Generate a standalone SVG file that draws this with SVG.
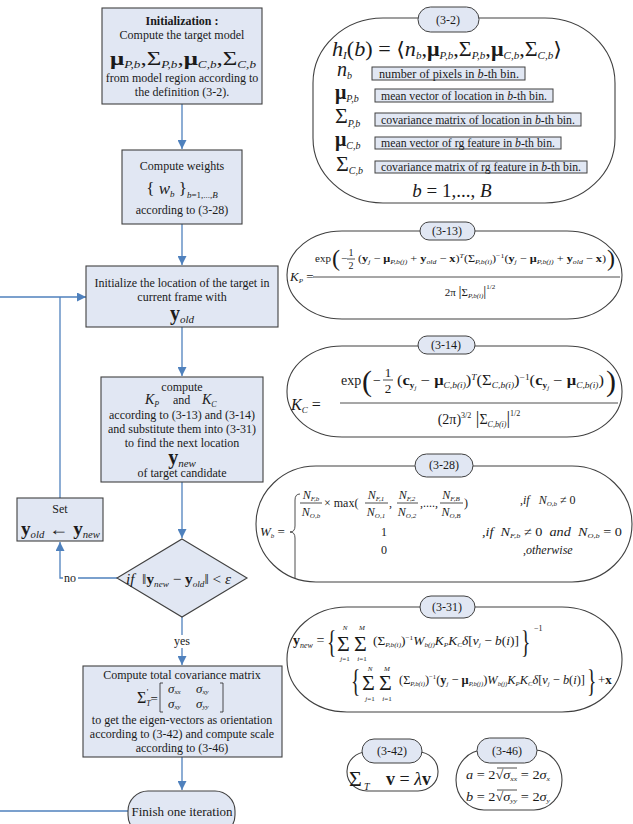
<svg xmlns="http://www.w3.org/2000/svg" width="633" height="824" viewBox="0 0 633 824">
<style>
text{font-family:"Liberation Serif","DejaVu Serif","Times New Roman",serif;fill:#1a1a1a}
.c{text-anchor:middle}
.f11{font-size:11px}
.f12{font-size:12px}
.i{font-style:italic}
.b{font-weight:bold}
.n{font-style:normal}
.box{fill:#e1e7f3;stroke:#404040;stroke-width:1.1}
.lbl{fill:#e1e7f3;stroke:#404040;stroke-width:1}
.eq{fill:#fff;stroke:#404040;stroke-width:1.1}
.conn{fill:none;stroke:#4f81bd;stroke-width:1.3}
.ml{stroke:#222;stroke-width:0.8;fill:none}
</style>
<defs>
<marker id="ah" viewBox="0 0 10 10" refX="10" refY="5" markerWidth="9" markerHeight="9" markerUnits="userSpaceOnUse" orient="auto"><path d="M0,0 L10,5 L0,10 z" fill="#4f81bd"/></marker>
</defs>
<rect width="633" height="824" fill="#fff"/>

<g id="connectors">
<path class="conn" d="M182,104 V149" marker-end="url(#ah)"/>
<path class="conn" d="M182,224 V265" marker-end="url(#ah)"/>
<path class="conn" d="M182,327 V376" marker-end="url(#ah)"/>
<path class="conn" d="M182,482 V538" marker-end="url(#ah)"/>
<path class="conn" d="M182,617 V665" marker-end="url(#ah)"/>
<path class="conn" d="M182,757 V790" marker-end="url(#ah)"/>
<path class="conn" d="M117,578 H60 V542" marker-end="url(#ah)"/>
<path class="conn" d="M60,498 V297"/>
<path class="conn" d="M0,297 H86" marker-end="url(#ah)"/>
<path class="conn" d="M0,811 H128"/>
<rect x="63" y="572" width="15" height="12" fill="#fff"/>
<text x="70" y="582" class="c f12">no</text>
<rect x="171" y="635" width="23" height="13" fill="#fff"/>
<text x="182" y="645" class="c f12">yes</text>
</g>

<g id="init">
<rect class="box" x="102" y="8" width="160" height="96"/>
<text x="182" y="25" class="c f12 b">Initialization :</text>
<text x="182" y="39" class="c f12">Compute the target model</text>
<text x="110" y="65" font-size="19" textLength="146" lengthAdjust="spacingAndGlyphs"><tspan class="b">μ</tspan><tspan class="i" font-size="10" dy="3">P,b</tspan><tspan dy="-3">,Σ</tspan><tspan class="i" font-size="10" dy="3">P,b</tspan><tspan dy="-3">,</tspan><tspan class="b">μ</tspan><tspan class="i" font-size="10" dy="3">C,b</tspan><tspan dy="-3">,Σ</tspan><tspan class="i" font-size="10" dy="3">C,b</tspan></text>
<text x="182" y="82" class="c f12">from model region according to</text>
<text x="182" y="96" class="c f12">the definition (3-2).</text>
</g>

<g id="weights">
<rect class="box" x="122" y="150" width="120" height="74"/>
<text x="182" y="170" class="c f12">Compute weights</text>
<text x="182" y="194" class="c" font-size="17">{ <tspan class="i">w</tspan><tspan class="i" font-size="9" dy="3">b</tspan><tspan dy="-3"> }</tspan><tspan font-size="9" dy="4"><tspan class="i">b</tspan>=1,...,<tspan class="i">B</tspan></tspan></text>
<text x="182" y="214" class="c f12">according to (3-28)</text>
</g>

<g id="initloc">
<rect class="box" x="86" y="266" width="192" height="61"/>
<text x="182" y="287" class="c f12">Initialize the location of the target in</text>
<text x="182" y="301" class="c f12">current frame with</text>
<text x="182" y="320" class="c" font-size="20"><tspan class="b">y</tspan><tspan class="i" font-size="11" dy="3">old</tspan></text>
</g>

<g id="compute">
<rect class="box" x="101" y="377" width="162" height="105"/>
<text x="182" y="391" class="c f12">compute</text>
<text x="145" y="404" font-size="14" class="i">K<tspan font-size="8" dy="3">P</tspan></text>
<text x="173" y="404" class="f12">and</text>
<text x="202" y="404" font-size="14" class="i">K<tspan font-size="8" dy="3">C</tspan></text>
<text x="182" y="419" class="c f12">according to (3-13) and (3-14)</text>
<text x="182" y="433" class="c f12">and substitute them into (3-31)</text>
<text x="182" y="447" class="c f12">to find the next location</text>
<text x="182" y="464" class="c" font-size="20"><tspan class="b">y</tspan><tspan class="i" font-size="11" dy="3">new</tspan></text>
<text x="182" y="477" class="c f12">of target candidate</text>
</g>

<g id="set">
<rect class="box" x="17" y="498" width="86" height="43"/>
<text x="60" y="513" class="c f12">Set</text>
<text x="21" y="535" font-size="18" textLength="79" lengthAdjust="spacingAndGlyphs"><tspan class="b">y</tspan><tspan class="i" font-size="10" dy="3">old</tspan><tspan dy="-3">&#160;←&#160;</tspan><tspan class="b">y</tspan><tspan class="i" font-size="10" dy="3">new</tspan></text>
</g>

<g id="decision">
<polygon class="box" points="182,539 247,578 182,617 117,578"/>
<text x="126" y="584" font-size="15" textLength="105" lengthAdjust="spacingAndGlyphs"><tspan class="i">if</tspan>&#160;&#160;‖<tspan class="b">y</tspan><tspan class="i" font-size="9" dy="3">new</tspan><tspan dy="-3">&#160;−&#160;</tspan><tspan class="b">y</tspan><tspan class="i" font-size="9" dy="3">old</tspan><tspan dy="-3">‖&#160;&lt;&#160;</tspan><tspan class="i">ε</tspan></text>
</g>

<g id="total">
<rect class="box" x="83" y="666" width="199" height="91"/>
<text x="182" y="679" class="c f12">Compute total covariance matrix</text>
<text x="137" y="703" font-size="16">Σ<tspan font-size="8" class="i" dy="3">T</tspan><tspan font-size="9" dy="-11" dx="-4">'</tspan><tspan font-size="13" dy="8" dx="2">=</tspan></text>
<path class="ml" d="M163,683 h-3 v29 h3 M220,683 h3 v29 h-3"/>
<text x="168" y="693" font-size="13" class="i">σ<tspan font-size="7" dy="1">xx</tspan></text>
<text x="196" y="693" font-size="13" class="i">σ<tspan font-size="7" dy="1">xy</tspan></text>
<text x="168" y="708" font-size="13" class="i">σ<tspan font-size="7" dy="1">xy</tspan></text>
<text x="196" y="708" font-size="13" class="i">σ<tspan font-size="7" dy="1">yy</tspan></text>
<text x="182" y="724" class="c f12">to get the eigen-vectors as orientation</text>
<text x="182" y="738" class="c f12">according to (3-42) and compute scale</text>
<text x="182" y="752" class="c f12">according to (3-46)</text>
</g>

<g id="finish">
<rect class="box" x="128" y="791" width="107" height="44" rx="20"/>
<text x="182" y="816" class="c" font-size="13">Finish one iteration</text>
</g>

<g id="eq3-2">
<rect class="eq" x="313" y="18" width="302" height="185" rx="70" ry="65"/>
<rect class="lbl" x="418" y="7" width="61" height="25" rx="12.5"/>
<text x="448" y="24" class="c f12">(3-2)</text>
<text x="332" y="56" font-size="20" textLength="230" lengthAdjust="spacingAndGlyphs"><tspan class="i">h</tspan><tspan class="i" font-size="10" dy="3">I</tspan><tspan dy="-3">(</tspan><tspan class="i">b</tspan>)&#160;=&#160;⟨<tspan class="i">n</tspan><tspan class="i" font-size="10" dy="3">b</tspan><tspan dy="-3">,</tspan><tspan class="b">μ</tspan><tspan class="i" font-size="10" dy="3">P,b</tspan><tspan dy="-3">,Σ</tspan><tspan class="i" font-size="10" dy="3">P,b</tspan><tspan dy="-3">,</tspan><tspan class="b">μ</tspan><tspan class="i" font-size="10" dy="3">C,b</tspan><tspan dy="-3">,Σ</tspan><tspan class="i" font-size="10" dy="3">C,b</tspan><tspan dy="-3">⟩</tspan></text>
<text x="337" y="76" font-size="20" class="i">n<tspan font-size="10" dy="3">b</tspan></text>
<text x="335" y="99" font-size="20" class="b">μ<tspan font-size="10" font-weight="normal" font-style="italic" dy="3">P,b</tspan></text>
<text x="335" y="123" font-size="22">Σ<tspan font-size="10" font-style="italic" dy="4">P,b</tspan></text>
<text x="335" y="146" font-size="20" class="b">μ<tspan font-size="10" font-weight="normal" font-style="italic" dy="3">C,b</tspan></text>
<text x="336" y="171" font-size="22">Σ<tspan font-size="10" font-style="italic" dy="3">C,b</tspan></text>
<rect class="lbl" x="372" y="67" width="153" height="13"/>
<text x="379" y="77.5" font-size="11.5" textLength="140" lengthAdjust="spacingAndGlyphs">number of pixels in <tspan class="i">b</tspan>-th bin.</text>
<rect class="lbl" x="375" y="89" width="178" height="13"/>
<text x="381" y="99.5" font-size="11.5" textLength="166" lengthAdjust="spacingAndGlyphs">mean vector of location in <tspan class="i">b</tspan>-th bin.</text>
<rect class="lbl" x="375" y="113" width="206" height="13"/>
<text x="381" y="123.5" font-size="11.5" textLength="194" lengthAdjust="spacingAndGlyphs">covariance matrix of location in <tspan class="i">b</tspan>-th bin.</text>
<rect class="lbl" x="375" y="137" width="186" height="12"/>
<text x="381" y="147" font-size="11.5" textLength="174" lengthAdjust="spacingAndGlyphs">mean vector of rg feature in <tspan class="i">b</tspan>-th bin.</text>
<rect class="lbl" x="375" y="161" width="212" height="12"/>
<text x="381" y="171" font-size="11.5" textLength="200" lengthAdjust="spacingAndGlyphs">covariance matrix of rg feature in <tspan class="i">b</tspan>-th bin.</text>
<text x="452" y="197" class="c" font-size="19"><tspan class="i">b</tspan>&#160;=&#160;1,...,&#160;<tspan class="i">B</tspan></text>
</g>

<g id="eq3-13">
<rect class="eq" x="287" y="231" width="335" height="88" rx="55" ry="44"/>
<rect class="lbl" x="420" y="222" width="55" height="18" rx="9"/>
<text x="447" y="235" class="c f12">(3-13)</text>
<text x="290" y="281" font-size="13" class="i">K<tspan font-size="7" dy="2">P</tspan><tspan dy="-2" class="n"> =</tspan></text>
<text x="315" y="262" font-size="11">exp</text>
<text x="332" y="266" font-size="24">(</text>
<text x="341" y="262" font-size="11">−</text>
<text x="351" y="256" class="c" font-size="10">1</text>
<line class="ml" x1="347" y1="259" x2="355" y2="259"/>
<text x="351" y="269" class="c" font-size="10">2</text>
<text x="358" y="262" font-size="11" textLength="248" lengthAdjust="spacingAndGlyphs">(<tspan class="b">y</tspan><tspan font-size="7" class="i" dy="2">j</tspan><tspan dy="-2">&#160;−&#160;</tspan><tspan class="b">μ</tspan><tspan font-size="7" class="i" dy="2">P,b(j)</tspan><tspan dy="-2">&#160;+&#160;</tspan><tspan class="b">y</tspan><tspan font-size="7" class="i" dy="2">old</tspan><tspan dy="-2">&#160;−&#160;</tspan><tspan class="b">x</tspan>)<tspan font-size="7" class="i" dy="-4">T</tspan><tspan dy="4">(Σ</tspan><tspan font-size="7" class="i" dy="2">P,b(i)</tspan><tspan dy="-2">)</tspan><tspan font-size="7" dy="-4">−1</tspan><tspan dy="4">(</tspan><tspan class="b">y</tspan><tspan font-size="7" class="i" dy="2">j</tspan><tspan dy="-2">&#160;−&#160;</tspan><tspan class="b">μ</tspan><tspan font-size="7" class="i" dy="2">P,b(j)</tspan><tspan dy="-2">&#160;+&#160;</tspan><tspan class="b">y</tspan><tspan font-size="7" class="i" dy="2">old</tspan><tspan dy="-2">&#160;−&#160;</tspan><tspan class="b">x</tspan>)</text>
<text x="607" y="266" font-size="24">)</text>
<line class="ml" x1="313" y1="277" x2="620" y2="277"/>
<text x="470" y="296" class="c" font-size="11">2π <tspan font-size="15">|</tspan>Σ<tspan font-size="7" class="i" dy="2">P,b(i)</tspan><tspan dy="-2" font-size="15">|</tspan><tspan font-size="7" dy="-7">1/2</tspan></text>
</g>

<g id="eq3-14">
<rect class="eq" x="287" y="346" width="335" height="91" rx="55" ry="45"/>
<rect class="lbl" x="418" y="336" width="57" height="18" rx="9"/>
<text x="446" y="349" class="c f12">(3-14)</text>
<text x="291" y="410" font-size="16" class="i">K<tspan font-size="9" dy="3">C</tspan><tspan dy="-3" class="n"> =</tspan></text>
<text x="341" y="385" font-size="14">exp</text>
<text x="362" y="391" font-size="30">(</text>
<text x="373" y="385" font-size="14">−</text>
<text x="388" y="377" class="c" font-size="13">1</text>
<line class="ml" x1="383" y1="380" x2="393" y2="380"/>
<text x="388" y="393" class="c" font-size="13">2</text>
<text x="397" y="385" font-size="14" textLength="207" lengthAdjust="spacingAndGlyphs">(<tspan class="b">c</tspan><tspan font-size="8" class="b" dy="3">y</tspan><tspan font-size="6" class="i" dy="2">j</tspan><tspan dy="-5">&#160;−&#160;</tspan><tspan class="b">μ</tspan><tspan font-size="8" class="i" dy="3">C,b(i)</tspan><tspan dy="-3">)</tspan><tspan font-size="8" class="i" dy="-5">T</tspan><tspan dy="5">(Σ</tspan><tspan font-size="8" class="i" dy="3">C,b(i)</tspan><tspan dy="-3">)</tspan><tspan font-size="8" dy="-5">−1</tspan><tspan dy="5">(</tspan><tspan class="b">c</tspan><tspan font-size="8" class="b" dy="3">y</tspan><tspan font-size="6" class="i" dy="2">j</tspan><tspan dy="-5">&#160;−&#160;</tspan><tspan class="b">μ</tspan><tspan font-size="8" class="i" dy="3">C,b(i)</tspan><tspan dy="-3">)</tspan></text>
<text x="606" y="391" font-size="30">)</text>
<line class="ml" x1="340" y1="403" x2="618" y2="403"/>
<text x="479" y="424" class="c" font-size="14">(2π)<tspan font-size="8" dy="-6">3/2</tspan><tspan dy="6" font-size="18">&#160;|</tspan>Σ<tspan font-size="8" class="i" dy="3">C,b(i)</tspan><tspan dy="-3" font-size="18">|</tspan><tspan font-size="8" dy="-8">1/2</tspan></text>
</g>

<g id="eq3-28">
<rect class="eq" x="256" y="466" width="376" height="116" rx="60" ry="58"/>
<rect class="lbl" x="415" y="454" width="58" height="23" rx="11.5"/>
<text x="444" y="469" class="c f12">(3-28)</text>
<text x="260" y="536" font-size="13" class="i">W<tspan font-size="7" dy="2">b</tspan><tspan dy="-2" class="n"> =</tspan></text>
<path class="ml" d="M300,494 Q295,494 295,500 L295,526 Q295,532 290,532 Q295,532 295,538 L295,578"/>
<text x="311" y="499" class="c i" font-size="12">N<tspan font-size="7" dy="2">F,b</tspan></text>
<line class="ml" x1="300" y1="503" x2="322" y2="503"/>
<text x="311" y="516" class="c i" font-size="12">N<tspan font-size="7" dy="2">O,b</tspan></text>
<text x="324" y="507" font-size="12">× max(</text>
<text x="376" y="499" class="c i" font-size="12">N<tspan font-size="7" dy="2">F,1</tspan></text>
<line class="ml" x1="365" y1="503" x2="388" y2="503"/>
<text x="376" y="516" class="c i" font-size="12">N<tspan font-size="7" dy="2">O,1</tspan></text>
<text x="389" y="507" font-size="12">,</text>
<text x="407" y="499" class="c i" font-size="12">N<tspan font-size="7" dy="2">F,2</tspan></text>
<line class="ml" x1="397" y1="503" x2="418" y2="503"/>
<text x="407" y="516" class="c i" font-size="12">N<tspan font-size="7" dy="2">O,2</tspan></text>
<text x="420" y="507" font-size="12">,....,</text>
<text x="451" y="499" class="c i" font-size="12">N<tspan font-size="7" dy="2">F,B</tspan></text>
<line class="ml" x1="440" y1="503" x2="463" y2="503"/>
<text x="451" y="516" class="c i" font-size="12">N<tspan font-size="7" dy="2">O,B</tspan></text>
<text x="464" y="507" font-size="12">)</text>
<text x="520" y="504" font-size="12">,<tspan class="i">if</tspan>&#160;&#160;&#160;<tspan class="i">N</tspan><tspan class="i" font-size="7" dy="2">O,b</tspan><tspan dy="-2">&#160;≠&#160;0</tspan></text>
<text x="384" y="536" class="c" font-size="12">1</text>
<text x="482" y="536" font-size="12" textLength="140" lengthAdjust="spacingAndGlyphs">,<tspan class="i">if</tspan>&#160;&#160;<tspan class="i">N</tspan><tspan class="i" font-size="7" dy="2">F,b</tspan><tspan dy="-2">&#160;≠&#160;0&#160;&#160;</tspan><tspan class="i">and</tspan>&#160;&#160;<tspan class="i">N</tspan><tspan class="i" font-size="7" dy="2">O,b</tspan><tspan dy="-2">&#160;=&#160;0</tspan></text>
<text x="384" y="554" class="c" font-size="12">0</text>
<text x="523" y="554" font-size="12">,<tspan class="i">otherwise</tspan></text>
</g>

<g id="eq3-31">
<rect class="eq" x="287" y="607" width="335" height="105" rx="60" ry="52"/>
<rect class="lbl" x="420" y="596" width="55" height="22" rx="11"/>
<text x="447" y="611" class="c f12">(3-31)</text>
<text x="293" y="645" font-size="14"><tspan class="b">y</tspan><tspan class="i" font-size="8" dy="3">new</tspan><tspan dy="-3">&#160;=</tspan></text>
<text transform="translate(327,653) scale(0.75,1.25)" font-size="26">{</text>
<text x="337" y="651" font-size="22">Σ</text>
<text x="345" y="630" class="c i" font-size="7">N</text>
<text x="345" y="661" class="c" font-size="7"><tspan class="i">j</tspan>=1</text>
<text x="354" y="651" font-size="22">Σ</text>
<text x="362" y="630" class="c i" font-size="7">M</text>
<text x="362" y="661" class="c" font-size="7"><tspan class="i">i</tspan>=1</text>
<text x="373" y="645" font-size="13" textLength="146" lengthAdjust="spacingAndGlyphs">(Σ<tspan font-size="7" class="i" dy="2">P,b(i)</tspan><tspan dy="-2">)</tspan><tspan font-size="7" dy="-5">−1</tspan><tspan dy="5" class="i">W</tspan><tspan font-size="7" class="i" dy="2">b(j)</tspan><tspan dy="-2" class="i">K</tspan><tspan font-size="7" class="i" dy="2">P</tspan><tspan dy="-2" class="i">K</tspan><tspan font-size="7" class="i" dy="2">C</tspan><tspan dy="-2" class="i">δ</tspan>[<tspan class="i">v</tspan><tspan font-size="7" class="i" dy="2">j</tspan><tspan dy="-2">&#160;−&#160;</tspan><tspan class="i">b</tspan>(<tspan class="i">i</tspan>)]</text>
<text transform="translate(521,653) scale(0.75,1.25)" font-size="26">}</text>
<text x="534" y="631" font-size="8">−1</text>
<text transform="translate(351,692) scale(0.75,1.25)" font-size="26">{</text>
<text x="362" y="690" font-size="22">Σ</text>
<text x="370" y="671" class="c i" font-size="7">N</text>
<text x="370" y="701" class="c" font-size="7"><tspan class="i">j</tspan>=1</text>
<text x="379" y="690" font-size="22">Σ</text>
<text x="387" y="671" class="c i" font-size="7">M</text>
<text x="387" y="701" class="c" font-size="7"><tspan class="i">i</tspan>=1</text>
<text x="399" y="684" font-size="13" textLength="186" lengthAdjust="spacingAndGlyphs">(Σ<tspan font-size="7" class="i" dy="2">P,b(i)</tspan><tspan dy="-2">)</tspan><tspan font-size="7" dy="-5">−1</tspan><tspan dy="5">(</tspan><tspan class="b">y</tspan><tspan font-size="7" class="i" dy="2">j</tspan><tspan dy="-2">&#160;−&#160;</tspan><tspan class="b">μ</tspan><tspan font-size="7" class="i" dy="2">P,b(j)</tspan><tspan dy="-2">)</tspan><tspan class="i">W</tspan><tspan font-size="7" class="i" dy="2">b(j)</tspan><tspan dy="-2" class="i">K</tspan><tspan font-size="7" class="i" dy="2">P</tspan><tspan dy="-2" class="i">K</tspan><tspan font-size="7" class="i" dy="2">C</tspan><tspan dy="-2" class="i">δ</tspan>[<tspan class="i">v</tspan><tspan font-size="7" class="i" dy="2">j</tspan><tspan dy="-2">&#160;−&#160;</tspan><tspan class="i">b</tspan>(<tspan class="i">i</tspan>)]</text>
<text transform="translate(587,692) scale(0.75,1.25)" font-size="26">}</text>
<text x="598" y="684" font-size="13">+<tspan class="b">x</tspan></text>
</g>

<g id="eq3-42">
<rect class="eq" x="347" y="752" width="91" height="39" rx="20" ry="19"/>
<rect class="lbl" x="362" y="739" width="60" height="24" rx="12"/>
<text x="392" y="755" class="c f12">(3-42)</text>
<text x="349" y="786" font-size="22">Σ</text>
<text x="364" y="790" font-size="10" class="i">T</text>
<text x="386" y="785" font-size="18"><tspan class="b">v</tspan>&#160;=&#160;<tspan class="i">λ</tspan><tspan class="b">v</tspan></text>
</g>

<g id="eq3-46">
<rect class="eq" x="456" y="750" width="106" height="60" rx="28" ry="30"/>
<rect class="lbl" x="477" y="738" width="60" height="25" rx="12.5"/>
<text x="507" y="755" class="c f12">(3-46)</text>
<text x="466" y="779" font-size="13" textLength="84" lengthAdjust="spacingAndGlyphs"><tspan class="i">a</tspan>&#160;=&#160;2√<tspan class="i">σ</tspan><tspan font-size="7" class="i" dy="2">xx</tspan><tspan dy="-2">&#160;=&#160;2</tspan><tspan class="i">σ</tspan><tspan font-size="7" class="i" dy="2">x</tspan></text>
<line class="ml" x1="497" y1="768" x2="517" y2="768"/>
<text x="466" y="801" font-size="13" textLength="84" lengthAdjust="spacingAndGlyphs"><tspan class="i">b</tspan>&#160;=&#160;2√<tspan class="i">σ</tspan><tspan font-size="7" class="i" dy="2">yy</tspan><tspan dy="-2">&#160;=&#160;2</tspan><tspan class="i">σ</tspan><tspan font-size="7" class="i" dy="2">y</tspan></text>
<line class="ml" x1="497" y1="790" x2="517" y2="790"/>
</g>
</svg>
